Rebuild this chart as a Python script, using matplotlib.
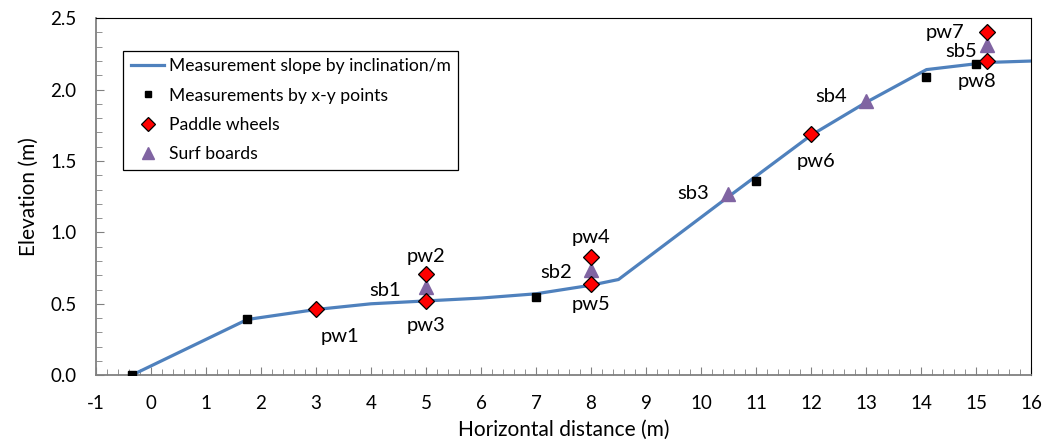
import matplotlib.pyplot as plt
from matplotlib.ticker import MultipleLocator

plt.rcParams['font.family'] = ['Lato', 'DejaVu Sans']
plt.rcParams['axes.unicode_minus'] = False

# slope line
line_x = [-0.35, 1.75, 3, 4, 5, 6, 7, 8, 8.5, 10.5, 12, 13, 14.1, 15.2, 16]
line_y = [0.0, 0.39, 0.46, 0.50, 0.52, 0.54, 0.57, 0.63, 0.67, 1.25, 1.68, 1.91, 2.14, 2.19, 2.2]

# x-y points
xy_x = [-0.35, 1.75, 7.0, 11.0, 14.1, 15.0]
xy_y = [0.0, 0.39, 0.55, 1.36, 2.09, 2.18]

# paddle wheels
pw_names = ['pw1', 'pw2', 'pw3', 'pw4', 'pw5', 'pw6', 'pw7', 'pw8']
pw_x = [3, 5, 5, 8, 8, 12, 15.2, 15.2]
pw_y = [0.46, 0.71, 0.52, 0.83, 0.64, 1.69, 2.40, 2.20]

# surf boards
sb_names = ['sb1', 'sb2', 'sb3', 'sb4', 'sb5']
sb_x = [5, 8, 10.5, 13, 15.2]
sb_y = [0.62, 0.74, 1.27, 1.92, 2.31]

# label offsets in pixels (dx, dy down)
pw_off = [(24, 27), (0, -17), (0, 25), (0, -19), (0, 21), (5, 28), (-42, 0), (-10, 20)]
sb_off = [(-41, 4), (-35, 3), (-35, 0), (-35, -5), (-26, 6)]

fig = plt.figure(figsize=(10.44, 4.44), dpi=100)
ax = fig.add_axes([0.092, 0.155, 0.8955, 0.804])

ax.plot(line_x, line_y, color='#4F81BD', lw=2.3, label='Measurement slope by inclination/m', zorder=2)
ax.plot(xy_x, xy_y, 's', color='black', ms=6, ls='none', label='Measurements by x-y points', zorder=3)
ax.plot(pw_x, pw_y, 'D', color='#FF0000', mec='black', mew=0.9, ms=8.5, ls='none', label='Paddle wheels', zorder=4)
ax.plot(sb_x, sb_y, '^', color='#8064A2', ms=10, ls='none', label='Surf boards', zorder=3)

px = 72 / 100
for n, x, y, (dx, dy) in zip(pw_names, pw_x, pw_y, pw_off):
    ax.annotate(n, (x, y), xytext=(dx * px, -dy * px), textcoords='offset points',
                ha='center', va='center', fontsize=14.5)
for n, x, y, (dx, dy) in zip(sb_names, sb_x, sb_y, sb_off):
    ax.annotate(n, (x, y), xytext=(dx * px, -dy * px), textcoords='offset points',
                ha='center', va='center', fontsize=14.5)

ax.set_xlim(-1, 16)
ax.set_ylim(0, 2.5)
ax.xaxis.set_major_locator(MultipleLocator(1))
ax.xaxis.set_minor_locator(MultipleLocator(0.2))
ax.yaxis.set_major_locator(MultipleLocator(0.5))
ax.yaxis.set_minor_locator(MultipleLocator(0.1))
ax.yaxis.set_major_formatter(plt.FormatStrFormatter('%.1f'))
ax.tick_params(which='both', direction='in', color='#808080', labelsize=13.5)
ax.tick_params(which='major', length=6)
ax.tick_params(which='minor', length=4)
ax.tick_params(axis='x', pad=14)
ax.tick_params(axis='y', pad=14)

for s in ['left', 'bottom']:
    ax.spines[s].set_color('#808080')
    ax.spines[s].set_linewidth(1.3)
for s in ['top', 'right']:
    ax.spines[s].set_color('black')
    ax.spines[s].set_linewidth(0.8)

ax.set_xlabel('Horizontal distance (m)', fontsize=15, labelpad=6)
ax.set_ylabel('Elevation (m)', fontsize=15, labelpad=8)

leg = ax.legend(loc='upper left', bbox_to_anchor=(0.0195, 0.934), fontsize=12.6, frameon=True,
                fancybox=False, edgecolor='black', framealpha=1, borderpad=0.45,
                handlelength=1.9, labelspacing=0.75, handletextpad=0.25, markerscale=0.8)
leg.get_frame().set_linewidth(0.9)

fig.savefig('out.png', dpi=100)
